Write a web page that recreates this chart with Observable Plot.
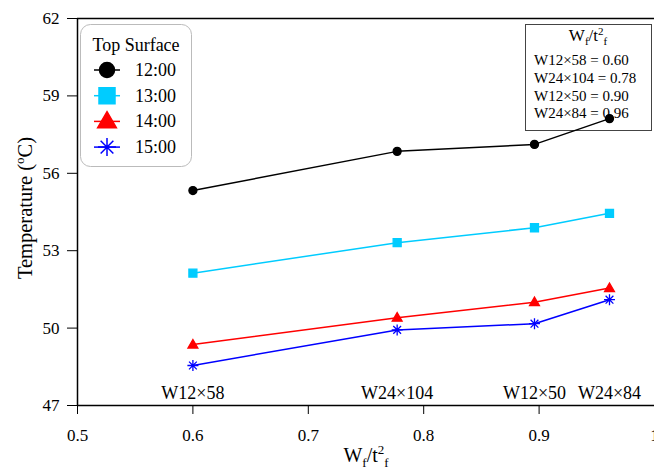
<!DOCTYPE html>
<html>
<head>
<meta charset="utf-8">
<script src="https://cdn.jsdelivr.net/npm/d3@7"></script>
<script src="https://cdn.jsdelivr.net/npm/@observablehq/plot@0.6"></script>
<style>
  html, body { margin: 0; padding: 0; background: #fff; }
  #chart svg { display: block; }
  #chart svg text { font-family: "Liberation Serif", "Times New Roman", serif; }
</style>
</head>
<body>
<div id="chart"></div>
<script>
// ---- data ----
const sections = ["W12×58", "W24×104", "W12×50", "W24×84"];
const ratioLabels = ["0.60", "0.78", "0.90", "0.96"];
const wf = [0.600, 0.777, 0.896, 0.961];
const times = ["12:00", "13:00", "14:00", "15:00"];
const temp1200 = [55.33, 56.85, 57.12, 58.12];
const temp1300 = [52.13, 53.31, 53.89, 54.45];
const temp1400 = [49.36, 50.40, 51.00, 51.55];
const temp1500 = [48.55, 49.93, 50.17, 51.10];
const xDomain = [0.5, 1.0];
const yDomain = [47, 62];
const xTicks = [0.5, 0.6, 0.7, 0.8, 0.9, 1.0];
const xTickLabels = ["0.5", "0.6", "0.7", "0.8", "0.9", "1"];
const yTicks = [47, 50, 53, 56, 59, 62];
const legendTitle = "Top Surface";

const series = [temp1200, temp1300, temp1400, temp1500];
const colors = ["#000000", "#00ccff", "#ff0000", "#0000ff"];

// custom symbols (r derived from size = PI r^2)
const symCircle = { draw(c, size) { const r = Math.sqrt(size / Math.PI); c.moveTo(r, 0); c.arc(0, 0, r, 0, 2 * Math.PI); c.closePath(); } };
const symSquare = { draw(c, size) { const r = Math.sqrt(size / Math.PI); c.rect(-r, -r, 2 * r, 2 * r); } };
const symTriangle = { draw(c, size) { const r = Math.sqrt(size / Math.PI); const h = r * 1.9; c.moveTo(0, -h * 0.6); c.lineTo(r * 1.1, h * 0.4); c.lineTo(-r * 1.1, h * 0.4); c.closePath(); } };
const symAsterisk = { draw(c, size) { const r = Math.sqrt(size / Math.PI); const d = r * Math.SQRT1_2;
  c.moveTo(0, -r); c.lineTo(0, r); c.moveTo(-r, 0); c.lineTo(r, 0);
  c.moveTo(-d, -d); c.lineTo(d, d); c.moveTo(-d, d); c.lineTo(d, -d); } };
const symbols = [symCircle, symSquare, symTriangle, symAsterisk];
const markerR = [4, 4, 4.5, 5.5];
const legendR = [7.5, 8, 8.5, 9];
const filled = [true, true, true, false];

const rows = [];
series.forEach((vals, s) => vals.forEach((v, i) => rows.push({ time: times[s], x: wf[i], y: v, s })));

const FONT = "'Liberation Serif', 'Times New Roman', serif";

// annotation box (drawn under the lines)
function annotation() {
  const g = d3.create("svg:g").attr("font-family", FONT).attr("fill", "#000");
  g.append("rect").attr("x", 525.5).attr("y", 24.5).attr("width", 126).attr("height", 106)
    .attr("fill", "#fff").attr("stroke", "#444").attr("stroke-width", 1);
  const t = g.append("text").attr("x", 588).attr("y", 41).attr("text-anchor", "middle").attr("font-size", 17);
  t.append("tspan").text("W");
  t.append("tspan").attr("font-size", 11).attr("dy", 4).text("f");
  t.append("tspan").attr("dy", -4).text("/t");
  t.append("tspan").attr("font-size", 11).attr("dy", -6).text("2");
  t.append("tspan").attr("font-size", 11).attr("dy", 10).text("f");
  sections.forEach((s, i) => {
    g.append("text").attr("x", 534).attr("y", 65 + i * 17.8).attr("font-size", 15)
      .attr("text-anchor", "start").text(s + " = " + ratioLabels[i]);
  });
  return g.node();
}

// legend (on top)
function legend() {
  const g = d3.create("svg:g").attr("font-family", FONT).attr("fill", "#000");
  g.append("rect").attr("x", 80.5).attr("y", 24.5).attr("width", 111).attr("height", 142).attr("rx", 10)
    .attr("fill", "#fff").attr("stroke", "#bbb").attr("stroke-width", 1);
  g.append("text").attr("x", 136).attr("y", 51).attr("text-anchor", "middle").attr("font-size", 18).text(legendTitle);
  times.forEach((tm, i) => {
    const cy = 70 + i * 25.7;
    g.append("line").attr("x1", 94).attr("x2", 120).attr("y1", cy).attr("y2", cy)
      .attr("stroke", colors[i]).attr("stroke-width", 1.5);
    g.append("path").attr("transform", `translate(107,${cy})`)
      .attr("d", d3.symbol(symbols[i], Math.PI * legendR[i] * legendR[i])())
      .attr("fill", filled[i] ? colors[i] : "none").attr("stroke", colors[i]).attr("stroke-width", 1.5);
    g.append("text").attr("x", 135).attr("y", cy + 6).attr("font-size", 18)
      .attr("text-anchor", "start").text(tm);
  });
  return g.node();
}

const marks = [
  annotation,
  Plot.ruleY(yDomain, { stroke: "#000", strokeWidth: 1.5 }),
  Plot.ruleX([xDomain[0]], { stroke: "#000", strokeWidth: 1.5 }),
  Plot.text(sections, { x: (d, i) => wf[i], text: d => d, frameAnchor: "bottom", dy: -7, fontSize: 18, fill: "#000", fontFamily: FONT })
];
series.forEach((vals, s) => {
  const data = rows.filter(r => r.s === s);
  marks.push(Plot.line(data, { x: "x", y: "y", stroke: colors[s], strokeWidth: 1.5 }));
  marks.push(Plot.dot(data, {
    x: "x", y: "y", r: markerR[s], symbol: () => symbols[s],
    fill: filled[s] ? colors[s] : "none", stroke: colors[s], strokeWidth: 1.3
  }));
});
marks.push(legend);

const chart = Plot.plot({
  width: 654,
  height: 472,
  marginTop: 18,
  marginLeft: 77,
  marginRight: 0,
  marginBottom: 67,
  style: "font-family: 'Liberation Serif', 'Times New Roman', serif; font-size: 17px; color: #000; background: #fff; overflow: visible;",
  x: { domain: xDomain, ticks: xTicks, tickFormat: d => xTickLabels[xTicks.findIndex(t => Math.abs(t - d) < 1e-9)], tickSize: 9, tickPadding: 14, label: null },
  y: { domain: yDomain, ticks: yTicks, tickSize: 10, tickPadding: 8, label: null },
  symbol: { type: "identity" },
  marks
});

const svg = d3.select(chart);
// axis titles with sub/superscripts
const xl = svg.append("text").attr("x", 366).attr("y", 462).attr("text-anchor", "middle")
  .attr("font-family", FONT).attr("font-size", 20).attr("fill", "#000");
xl.append("tspan").text("W");
xl.append("tspan").attr("font-size", 13).attr("dy", 5).text("f");
xl.append("tspan").attr("dy", -5).text("/t");
xl.append("tspan").attr("font-size", 13).attr("dy", -8).text("2");
xl.append("tspan").attr("font-size", 13).attr("dy", 13).text("f");

const yl = svg.append("text").attr("transform", "translate(32,208) rotate(-90)").attr("text-anchor", "middle")
  .attr("font-family", FONT).attr("font-size", 20.5).attr("fill", "#000");
yl.append("tspan").text("Temperature (");
yl.append("tspan").attr("font-size", 13).attr("dy", -8).text("o");
yl.append("tspan").attr("dy", 8).text("C)");

document.getElementById("chart").appendChild(chart);
</script>
</body>
</html>
